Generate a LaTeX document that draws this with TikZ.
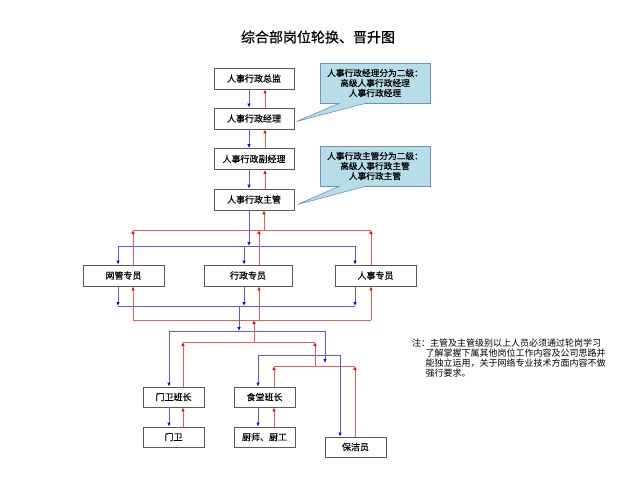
\documentclass[tikz,border=0pt]{standalone}
\usepackage{fontspec}
\setmainfont{Noto Sans CJK SC}
\newfontfamily\boxfont{Noto Sans CJK SC}[FakeBold=0.6]
\usetikzlibrary{arrows.meta}
\definecolor{downblue}{RGB}{90,90,240}
\definecolor{upred}{RGB}{240,90,90}
\definecolor{headblue}{RGB}{10,10,230}
\definecolor{headred}{RGB}{235,15,15}
\definecolor{tipfill}{RGB}{183,221,232}
\definecolor{tipline}{RGB}{110,145,190}

\begin{document}
\begin{tikzpicture}[x=1pt,y=-1pt,
    post/.style={draw=black!65,line width=0.9pt,minimum width=80pt,minimum height=21pt,
      inner sep=0pt,font=\boxfont\fontsize{9}{10}\selectfont},
    small/.style={post,minimum width=61pt,minimum height=20pt},
    bline/.style={draw=downblue,line width=1pt},
    rline/.style={draw=upred,line width=1pt},
    down/.style={bline,-{Latex[length=4pt,width=3.6pt,color=headblue]}},
    up/.style={rline,-{Latex[length=4pt,width=3.6pt,color=headred]}},
    tip/.style={fill=tipfill,draw=tipline,line width=0.6pt,minimum width=110pt,
      minimum height=40pt,align=center,inner sep=1pt,font=\boxfont\fontsize{8.7}{10}\selectfont}]
  \useasboundingbox (0,0) rectangle (640,480);

  \node[font=\boxfont\fontsize{14}{16}\selectfont] (title) at (318,37) {综合部岗位轮换、晋升图};

  % management chain
  \node[post] (zj) at (254,78.5) {人事行政总监};
  \node[post] (jl) at (254,118.5) {人事行政经理};
  \node[post] (fjl) at (254,159) {人事行政副经理};
  \node[post] (zg) at (254,199.5) {人事行政主管};
  \foreach \a/\b in {zj/jl,jl/fjl,fjl/zg}{
    \draw[down] (\a.south -| 249,0) -- (\b.north -| 249,0);
    \draw[up] (\b.north -| 265,0) -- (\a.south -| 265,0);
  }

  % notes on the right of the chain
  \node[tip] (tip1) at (375,83) {人事行政经理分为二级：\\高级人事行政经理\\人事行政经理};
  \node[tip] (tip2) at (375,166) {人事行政主管分为二级：\\高级人事行政主管\\人事行政主管};
  \filldraw[fill=tipfill,draw=tipline,line width=0.6pt]
    ([yshift=0.4pt]tip1.south -| 340,0) -- ([xshift=2pt,yshift=-3pt]jl.east) -- ([yshift=0.4pt]tip1.south -| 367,0);
  \filldraw[fill=tipfill,draw=tipline,line width=0.6pt]
    ([yshift=0.4pt]tip2.south -| 340,0) -- ([xshift=3pt,yshift=-5pt]zg.east) -- ([yshift=0.4pt]tip2.south -| 367,0);

  % specialists
  \node[post,minimum width=81pt] (wg) at (123.5,275.5) {网管专员};
  \node[post,minimum width=88pt] (xz) at (248,275.5) {行政专员};
  \node[post,minimum width=81pt] (rs) at (375.5,275.5) {人事专员};

  \coordinate (ba1) at (118,246); \coordinate (ba2) at (355,246);
  \coordinate (ra1) at (133,230); \coordinate (ra2) at (371,230);
  \draw[bline] (ba1) -- (ba2);
  \draw[rline] (ra1) -- (ra2);
  \draw[down] (zg.south -| 249,0) -- (ba1 -| 249,0);
  \draw[up] (ra1 -| 264,0) -- (zg.south -| 264,0);
  \foreach \x/\n in {118/wg,244/xz,355/rs}
    \draw[down] (ba1 -| \x,0) -- (\n.north -| \x,0);
  \foreach \x/\n in {133/wg,259/xz,371/rs}
    \draw[up] (\n.north -| \x,0) -- (ra1 -| \x,0);

  \coordinate (bb1) at (118,306); \coordinate (bb2) at (355,306);
  \coordinate (rb1) at (133,320); \coordinate (rb2) at (371,320);
  \draw[bline] (bb1) -- (bb2);
  \draw[rline] (rb1) -- (rb2);
  \foreach \x/\n in {118/wg,244/xz,355/rs}
    \draw[down] (\n.south -| \x,0) -- (bb1 -| \x,0);
  \foreach \x/\n in {133/wg,259/xz,371/rs}
    \draw[up] (rb1 -| \x,0) -- (\n.south -| \x,0);

  % team leaders and staff
  \node[small] (mwb) at (173.5,397) {门卫班长};
  \node[small] (mw) at (173.5,437) {门卫};
  \node[small] (stb) at (264.5,397) {食堂班长};
  \node[small] (cs) at (264.5,437) {厨师、厨工};
  \node[small] (bj) at (355.5,447) {保洁员};

  \coordinate (bc1) at (169,331); \coordinate (bc2) at (325,331);
  \coordinate (rc1) at (183,342); \coordinate (rc2) at (315,342);
  \coordinate (bd1) at (258,355); \coordinate (bd2) at (340,355);
  \coordinate (rd1) at (274,366); \coordinate (rd2) at (355,366);
  \coordinate (bdin) at (325,363);
  \draw[bline] (bc1) -- (bc2);
  \draw[rline] (rc1) -- (rc2);
  \draw[bline] (bd1) -- (bd2);
  \draw[rline] (rd1) -- (rd2);
  \draw[down] (bb1 -| 239,0) -- (bc1 -| 239,0);
  \draw[up] (rc1 -| 254,0) -- (rb1 -| 254,0);
  \draw[down] (bc2) -- (bdin);
  \draw[up] (rd1 -| rc2) -- (rc2);

  \draw[down] (bc1) -- (bc1 |- mwb.north);
  \draw[up] (rc1 |- mwb.north) -- (rc1);
  \draw[down] (bd1) -- (bd1 |- stb.north);
  \draw[up] (rd1 |- stb.north) -- (rd1);
  \draw[down] (bd2) -- (bd2 |- bj.north);
  \draw[up] (rd2 |- bj.north) -- (rd2);
  \draw[down] (mwb.south -| bc1) -- (mw.north -| bc1);
  \draw[up] (mw.north -| rc1) -- (mwb.south -| rc1);
  \draw[down] (stb.south -| bd1) -- (cs.north -| bd1);
  \draw[up] (cs.north -| rd1) -- (stb.south -| rd1);

  \node[anchor=north west,align=left,inner sep=0pt,font=\fontsize{9}{10}\selectfont] (note) at (412,339)
    {注：主管及主管级别以上人员必须通过轮岗学习\\
     \hspace*{1.5em}了解掌握下属其他岗位工作内容及公司思路并\\
     \hspace*{1.5em}能独立运用，关于网络专业技术方面内容不做\\
     \hspace*{1.5em}强行要求。};
\end{tikzpicture}
\end{document}
